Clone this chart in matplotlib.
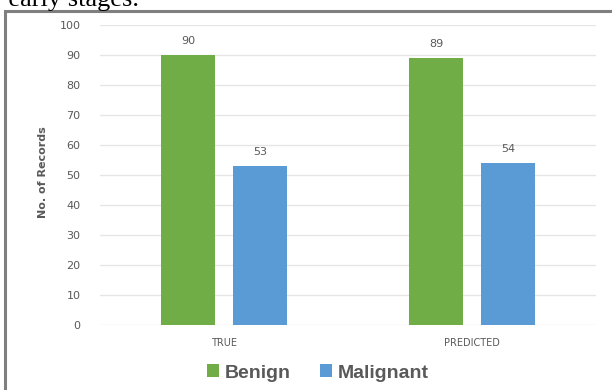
import numpy as np
import matplotlib.pyplot as plt
from matplotlib.patches import Rectangle

categories = ["TRUE", "PREDICTED"]
benign = [90, 89]
malignant = [53, 54]

green = "#70AD47"
blue = "#5B9BD5"
grey_txt = "#595959"

fig = plt.figure(figsize=(6.12, 3.9), dpi=100)
fig.patch.set_facecolor("white")

# cropped caption text above the chart (from surrounding document)
fig.text(-0.012, 1.0, "r early stages.", family="Liberation Serif", fontsize=19,
         va="center", ha="left", color="black")

# grey frame around chart
fig.add_artist(Rectangle((5 / 612, -0.05), 1.0, 1 - 11 / 390 + 0.05,
                         transform=fig.transFigure, fill=False,
                         edgecolor="#7f7f7f", linewidth=2.2))

ax = fig.add_axes([100 / 612, 1 - 325 / 390, 496 / 612, 300 / 390])
x = np.arange(len(categories))
w = 0.22
off = 0.145
b1 = ax.bar(x - off, benign, w, color=green, label="Benign", zorder=3)
b2 = ax.bar(x + off, malignant, w, color=blue, label="Malignant", zorder=3)

for bars in (b1, b2):
    for r in bars:
        ax.text(r.get_x() + r.get_width() / 2, r.get_height() + 3,
                f"{int(r.get_height())}", ha="center", va="bottom",
                fontsize=8, color=grey_txt)

ax.set_xlim(-0.5, 1.5)
ax.set_ylim(0, 100)
ax.set_yticks(range(0, 101, 10))
ax.set_xticks(x)
ax.set_xticklabels(categories, fontsize=7, color=grey_txt)
ax.tick_params(axis="y", labelsize=8, labelcolor=grey_txt, length=0, pad=14)
ax.tick_params(axis="x", length=0, pad=9)
ax.grid(axis="y", color="#e6e6e6", linewidth=1, zorder=0)
for s in ax.spines.values():
    s.set_visible(False)

fig.text(43 / 612, 1 - 172 / 390, "No. of Records", rotation=90, ha="center",
         va="center", fontsize=8, fontweight="bold", color=grey_txt)

leg = fig.legend(handles=[b1, b2], loc="center", bbox_to_anchor=(318 / 612, 1 - 373 / 390),
                 ncol=2, frameon=False, prop={"family": "Liberation Sans", "size": 14, "weight": "bold"},
                 handlelength=0.6, handleheight=0.6, handletextpad=0.3, columnspacing=1.5)
for t in leg.get_texts():
    t.set_color(grey_txt)

fig.savefig("out.png", dpi=100)
